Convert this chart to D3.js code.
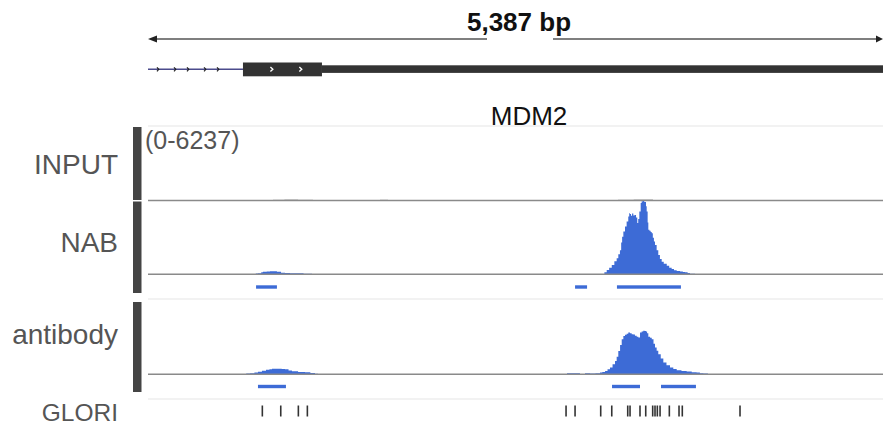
<!DOCTYPE html>
<html><head><meta charset="utf-8">
<script src="https://cdn.jsdelivr.net/npm/d3@7"></script>
<style>
html,body{margin:0;padding:0;background:#fff;}
svg{display:block;font-family:"Liberation Sans",Arial,Helvetica,sans-serif;}
</style></head>
<body>
<svg id="chart" width="883" height="436"></svg>
<script>
// ---------- data (genomic positions in bp relative to region start) ----------
const regionLength = 5387;
const rulerLabel = "5,387 bp";
const geneName = "MDM2";
const rangeLabel = "(0-6237)";
const dataMax = 6237;
const trackNames = ["INPUT", "NAB", "antibody", "GLORI"];

// gene model parts [start, end]
const intron = [0, 696];
const cds = [696, 1275];
const utr = [1275, 5387];
const intronArrows = [73, 198, 293, 418, 513];
const cdsArrows = [906, 1118];

// coverage [bp, value]
const inputCov = [[900,0],[916,60],[1000,85],[1100,60],[1209,50],[1225,0],
  [1560,0],[1576,50],[1700,60],[1759,40],[1770,0],
  [3430,0],[3445,60],[3560,90],[3650,80],[3701,50],[3715,0]];
const nabCov = [[733,0],[748,26],[790,60],[806,85],[830,170],[843,214],[870,240],[894,256],[920,250],[945,214],[975,140],[1004,103],[1040,90],[1077,85],[1140,50],[1202,26],[1231,0],
  [3318,0],[3325,20],[3345,180],[3362,367],[3380,560],[3399,795],[3418,1100],[3435,1367],[3447,1700],[3459,2051],[3468,2700],[3475,3200],[3484,3640],[3496,4067],[3508,4500],[3520,4921],[3527,5200],[3533,5126],[3540,4980],[3548,5180],[3557,5007],[3566,5050],[3577,4836],[3586,4357],[3593,4700],[3601,5349],[3611,6066],[3618,6200],[3626,6237],[3635,6180],[3643,6152],[3650,5800],[3655,5349],[3662,4400],[3667,3785],[3675,3700],[3684,3600],[3692,3503],[3700,3100],[3708,2800],[3716,2503],[3728,2050],[3740,1649],[3752,1300],[3765,1077],[3780,900],[3802,735],[3820,560],[3838,453],[3855,350],[3875,282],[3900,240],[3920,200],[3936,171],[3955,120],[3972,43],[4009,0]];
const abCov = [[674,0],[689,26],[720,60],[748,85],[780,150],[806,214],[835,300],[865,384],[890,440],[909,470],[950,480],[980,460],[1004,427],[1030,330],[1055,256],[1100,200],[1151,171],[1190,120],[1224,43],[1246,0],
  [3056,0],[3071,85],[3152,85],[3166,0],[3200,0],[3203,85],[3240,60],[3280,100],[3313,145],[3330,200],[3350,282],[3368,420],[3386,572],[3405,850],[3423,1136],[3435,1500],[3447,1991],[3460,2500],[3472,2990],[3484,3250],[3496,3358],[3508,3450],[3520,3563],[3533,3500],[3545,3418],[3557,3380],[3569,3272],[3582,3200],[3594,3136],[3606,3563],[3618,3650],[3630,3700],[3640,3680],[3650,3648],[3658,3500],[3667,3187],[3680,3100],[3692,2990],[3705,2600],[3716,2281],[3728,2000],[3740,1709],[3758,1350],[3777,1000],[3800,780],[3826,572],[3850,450],[3875,342],[3910,280],[3948,231],[3985,180],[4021,145],[4045,100],[4070,60],[4104,0]];

// peak regions [start, end]
const nabPeaks = [[792,945],[3130,3218],[3437,3906]];
const abPeaks = [[806,1011],[3401,3606],[3760,4016]];

// GLORI sites (bp)
const gloriSites = [838,973,1102,1168,3064,3130,3318,3399,3516,3533,3606,3648,3699,3716,3733,3753,3821,3892,3916,4339];

// ---------- drawing ----------
const svg = d3.select("#chart");
const x = d3.scaleLinear().domain([0, regionLength]).range([148, 883]);
const blue = "#3d6bd6";

// ruler
svg.append("text").attr("x", 519).attr("y", 31).attr("text-anchor","middle")
  .attr("font-size", 26).attr("font-weight","bold").attr("fill","#111").text(rulerLabel);
svg.append("line").attr("x1", x(0)+6).attr("x2", 487).attr("y1", 39).attr("y2", 39).attr("stroke","#555").attr("stroke-width",1.3);
svg.append("line").attr("x1", 553).attr("x2", x(regionLength)-4).attr("y1", 39).attr("y2", 39).attr("stroke","#555").attr("stroke-width",1.3);
svg.append("path").attr("d", `M${x(0)},39 L${x(0)+9},35.5 L${x(0)+9},42.5 Z`).attr("fill","#222");
svg.append("path").attr("d", `M${x(regionLength)},39 L${x(regionLength)-7},35.5 L${x(regionLength)-7},42.5 Z`).attr("fill","#222");

// gene model
const gy = 69.3;
svg.append("line").attr("x1", x(intron[0])).attr("x2", x(intron[1])).attr("y1", gy).attr("y2", gy)
  .attr("stroke","#4b4b8c").attr("stroke-width",1.5);
intronArrows.forEach(p => {
  svg.append("path").attr("d", `M${x(p)-1},${gy-2} L${x(p)+0.8},${gy} L${x(p)-1},${gy+2}`)
    .attr("fill","none").attr("stroke","#222").attr("stroke-width",1.2);
});
svg.append("rect").attr("x", x(cds[0])).attr("width", x(cds[1])-x(cds[0])).attr("y", 62.5).attr("height", 13.8).attr("fill","#333");
svg.append("rect").attr("x", x(utr[0])).attr("width", x(utr[1])-x(utr[0])).attr("y", 65.3).attr("height", 7.6).attr("fill","#333");
cdsArrows.forEach(p => {
  svg.append("path").attr("d", `M${x(p)-1.2},${gy-2.2} L${x(p)+1.2},${gy} L${x(p)-1.2},${gy+2.2}`)
    .attr("fill","none").attr("stroke","#fff").attr("stroke-width",1.4);
});

// gene name
svg.append("text").attr("x", 529).attr("y", 125).attr("text-anchor","middle")
  .attr("font-size", 26).attr("fill","#111").text(geneName);

// separators
[126, 299, 399].forEach(yy => {
  svg.append("line").attr("x1", 148).attr("x2", 883).attr("y1", yy).attr("y2", yy)
    .attr("stroke","#e6e6e6").attr("stroke-width",1.2);
});

// tracks
const tracks = [
  {name: trackNames[0], top: 127, base: 200.5, cov: inputCov, color: "#9a9a9a", peaks: null, bar: [127, 200], labelY: 174},
  {name: trackNames[1], top: 201, base: 274.3, cov: nabCov, color: blue, peaks: nabPeaks, peakY: 287, bar: [201.5, 293], labelY: 252},
  {name: trackNames[2], top: 301, base: 374.3, cov: abCov, color: blue, peaks: abPeaks, peakY: 386.5, bar: [302, 392], labelY: 344}
];

tracks.forEach(t => {
  const y = d3.scaleLinear().domain([0, dataMax]).range([t.base, t.top]);
  const area = d3.area().x(d => x(d[0])).y0(y(0)).y1(d => y(d[1])).curve(d3.curveStepAfter);
  svg.append("path").datum(t.cov).attr("d", area).attr("fill", t.color);
  svg.append("line").attr("x1", 148).attr("x2", 883).attr("y1", t.base).attr("y2", t.base)
    .attr("stroke","#8a8a8a").attr("stroke-width",1.5);
  if (t.peaks) {
    svg.selectAll(null).data(t.peaks).enter().append("rect")
      .attr("x", d => x(d[0])).attr("width", d => x(d[1]) - x(d[0]))
      .attr("y", t.peakY - 1.7).attr("height", 3.4).attr("fill", blue);
  }
  svg.append("rect").attr("x", 133).attr("width", 8.5).attr("y", t.bar[0]).attr("height", t.bar[1]-t.bar[0]).attr("fill","#444");
  svg.append("text").attr("x", 118).attr("y", t.labelY).attr("text-anchor","end")
    .attr("font-size", 28).attr("fill","#555").text(t.name);
});

svg.append("text").attr("x", 145).attr("y", 149).attr("font-size", 25).attr("fill","#555").text(rangeLabel);

// GLORI
svg.append("text").attr("x", 118).attr("y", 421).attr("text-anchor","end")
  .attr("font-size", 24.5).attr("fill","#555").text(trackNames[3]);
svg.selectAll(null).data(gloriSites).enter().append("line")
  .attr("x1", d => x(d)).attr("x2", d => x(d)).attr("y1", 405.5).attr("y2", 416.5)
  .attr("stroke","#333").attr("stroke-width",1.6);
</script>
</body></html>
